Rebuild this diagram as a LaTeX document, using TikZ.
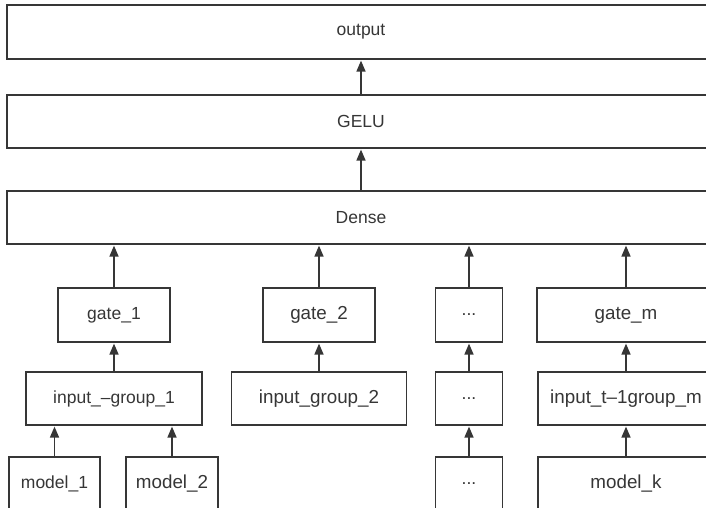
\documentclass[tikz,border=0pt]{standalone}
\usepackage{fontspec}
\setmainfont{Liberation Sans}
\usetikzlibrary{arrows.meta}
\definecolor{ink}{HTML}{363636}
\tikzset{
  box/.style={draw=ink, line width=1.6pt, rectangle, inner sep=0pt, text=ink, font=\fontsize{17.5}{20}\selectfont},
  bigtxt/.style={font=\fontsize{18.8}{21}\selectfont},
  conn/.style={draw=ink, line width=1.6pt, -{Triangle[length=11pt,width=9pt]}, shorten >=0.8pt}
}
\begin{document}
\begin{tikzpicture}[x=1pt,y=-1pt]
\useasboundingbox (0,0) rectangle (706,508);
\clip (0,0) rectangle (706,508);
\fill[white] (0,0) rectangle (706,508);
% wide layers
\node[box, minimum width=708pt, minimum height=54pt] (out) at (361,32) {output};
\node[box, minimum width=708pt, minimum height=53pt] (gelu) at (361,121.5) {GELU};
\node[box, minimum width=708pt, minimum height=53pt] (dense) at (361,217.5) {Dense};
% gates
\node[box, minimum width=112pt, minimum height=54pt] (g1) at (114,315) {gate\_1};
\node[box, bigtxt, minimum width=112pt, minimum height=54pt] (g2) at (319,315) {gate\_2};
\node[box, minimum width=67pt, minimum height=54pt] (g3) at (469,315) {...};
\node[box, bigtxt, minimum width=178pt, minimum height=54pt] (gm) at (626,315) {gate\_m};
% input groups
\node[box, minimum width=175.5pt, minimum height=53pt] (ig1) at (114,398.5) {input\_–group\_1};
\node[box, bigtxt, minimum width=175pt, minimum height=53pt] (ig2) at (319,398.5) {input\_group\_2};
\node[box, minimum width=67pt, minimum height=53pt] (ig3) at (469,398.5) {...};
\node[box, bigtxt, minimum width=176pt, minimum height=53pt] (igm) at (626,398.5) {input\_t–1group\_m};
% models
\node[box, minimum width=91pt, minimum height=54pt] (m1) at (54.5,484) {model\_1};
\node[box, bigtxt, minimum width=92pt, minimum height=54pt] (m2) at (172,484) {model\_2};
\node[box, minimum width=67pt, minimum height=54pt] (m3) at (469,484) {...};
\node[box, bigtxt, minimum width=176pt, minimum height=54pt] (mk) at (626,484) {model\_k};
% connectors
\draw[conn] (gelu.north) -- (out.south);
\draw[conn] (dense.north) -- (gelu.south);
\draw[conn] (g1.north) -- (g1.north |- dense.south);
\draw[conn] (g2.north) -- (g2.north |- dense.south);
\draw[conn] (g3.north) -- (g3.north |- dense.south);
\draw[conn] (gm.north) -- (gm.north |- dense.south);
\draw[conn] (ig1.north) -- (g1.south);
\draw[conn] (ig2.north) -- (g2.south);
\draw[conn] (ig3.north) -- (g3.south);
\draw[conn] (igm.north) -- (gm.south);
\draw[conn] (m1.north) -- (m1.north |- ig1.south);
\draw[conn] (m2.north) -- (m2.north |- ig1.south);
\draw[conn] (m3.north) -- (ig3.south);
\draw[conn] (mk.north) -- (igm.south);
\end{tikzpicture}
\end{document}
